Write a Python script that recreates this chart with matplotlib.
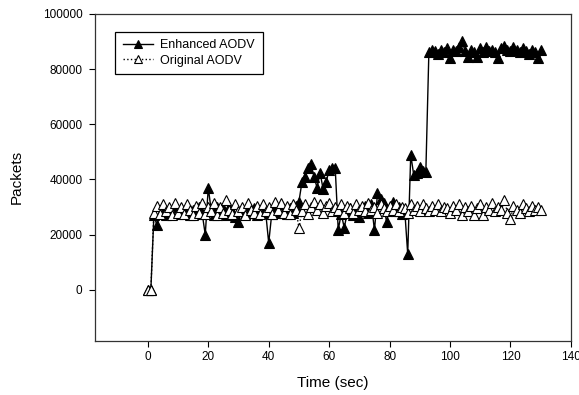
import numpy as np
import matplotlib.pyplot as plt

plt.rcParams['font.family'] = ['Liberation Sans', 'DejaVu Sans']

# time axis (sec)
time_sec = list(range(0, 131))

# Enhanced AODV packets
enhanced = [
    0, 0, 27000, 23500, 27500, 28500, 27000, 29000, 28000, 30000,      # 0-9
    27500, 29500, 28000, 30500, 27000, 29000, 28500, 30000, 27500, 20000,  # 10-19
    37000, 28500, 27000, 30000, 28000, 29500, 27000, 30000, 28500, 26500,  # 20-29
    24500, 29000, 27500, 30000, 28000, 29500, 27000, 28500, 30500, 28000,  # 30-39
    17000, 27500, 30000, 28000, 31000, 29000, 27500, 29500, 28000, 30500,  # 40-49
    32000, 39000, 41000, 44000, 45500, 41000, 37000, 42500, 36500, 39000,  # 50-59
    43500, 44000, 44300, 21800, 27500, 22500, 28000, 29500, 27000, 28500,  # 60-69
    26500, 29000, 30500, 28000, 31000, 21500, 35000, 33000, 31500, 24500,  # 70-79
    30000, 32000, 28500, 30000, 27500, 29000, 13000, 49000, 41500, 42500,  # 80-89
    44500, 43000, 42800, 86000, 87000, 86500, 85500, 87000, 86000, 87500,  # 90-99
    84000, 87000, 86500, 88000, 90000, 86500, 84500, 87000, 86000, 84500,  # 100-109
    87500, 86000, 88000, 86500, 87000, 86000, 84000, 87500, 88500, 87000,  # 110-119
    86500, 88000, 87000, 86000, 87500, 86500, 85500, 87000, 86000, 84000,  # 120-129
    87000,                                                                  # 130
]

# Original AODV packets
original = [
    0, 0, 28000, 30500, 27500, 31000, 28500, 30000, 27000, 31500,      # 0-9
    28000, 30000, 27500, 31000, 29000, 27000, 30500, 28000, 31500, 27500,  # 10-19
    30000, 28500, 31500, 27000, 30000, 28000, 32500, 29000, 27500, 31000,  # 20-29
    28500, 30000, 27000, 31500, 29000, 28000, 30500, 27500, 31000, 28500,  # 30-39
    30000, 27500, 32000, 29000, 31500, 28000, 30500, 27500, 31000, 29000,  # 40-49
    22500, 28500, 31000, 27500, 30000, 32000, 29000, 31000, 28000, 30500,  # 50-59
    31500, 28500, 30000, 29000, 31000, 28000, 30500, 29500, 28000, 31000,  # 60-69
    29000, 30500, 28500, 31500, 29000, 30000, 28000, 31000, 29500, 28500,  # 70-79
    30500, 29000, 31000, 28500, 30000, 29500, 28000, 31000, 29000, 30500,  # 80-89
    28500, 31000, 29500, 28500, 30500, 29000, 31000, 28500, 30000, 29500,  # 90-99
    28000, 30500, 29000, 31000, 27000, 30000, 28500, 30500, 27000, 29500,  # 100-109
    31000, 27000, 30000, 29000, 31500, 28500, 30000, 29000, 32500, 28000,  # 110-119
    25500, 30500, 29000, 28000, 31000, 29500, 28500, 30500, 29000, 30000,  # 120-129
    29000,                                                                  # 130
]

fig = plt.figure(figsize=(5.79, 3.95), dpi=100)
ax = fig.add_axes([0.164, 0.137, 0.822, 0.828])

l1, = ax.plot(time_sec, enhanced, color='black', linestyle='-', linewidth=1,
              marker='^', markersize=6.5, markerfacecolor='black',
              markeredgecolor='black', markeredgewidth=0.8, zorder=2)
l2, = ax.plot(time_sec, original, color='black', linestyle=':', linewidth=1,
              marker='^', markersize=6.5, markerfacecolor='white',
              markeredgecolor='black', markeredgewidth=0.8, zorder=3)

ax.set_xlim(-17.5, 140)
ax.set_ylim(-18500, 100000)
ax.set_xticks(np.arange(0, 141, 20))
ax.set_yticks(np.arange(0, 100001, 20000))
ax.tick_params(direction='out', length=4, width=0.8, labelsize=8.5)
ax.tick_params(axis='x', pad=3)
ax.tick_params(axis='y', pad=5)
for s in ax.spines.values():
    s.set_linewidth(0.9)
    s.set_color('#333333')

ax.set_xlabel('Time (sec)', fontsize=11, labelpad=10)
ax.set_ylabel('Packets', fontsize=11, labelpad=14)

leg = ax.legend([l1, l2], ['Enhanced AODV', 'Original AODV'],
                loc='upper left', bbox_to_anchor=(0.03, 0.965),
                fontsize=9, frameon=True, fancybox=False, framealpha=1,
                edgecolor='black', handlelength=2.4, borderpad=0.6,
                labelspacing=0.3, handletextpad=0.6, markerscale=0.85)
leg.get_frame().set_linewidth(0.9)

fig.savefig('out.png', dpi=100)
